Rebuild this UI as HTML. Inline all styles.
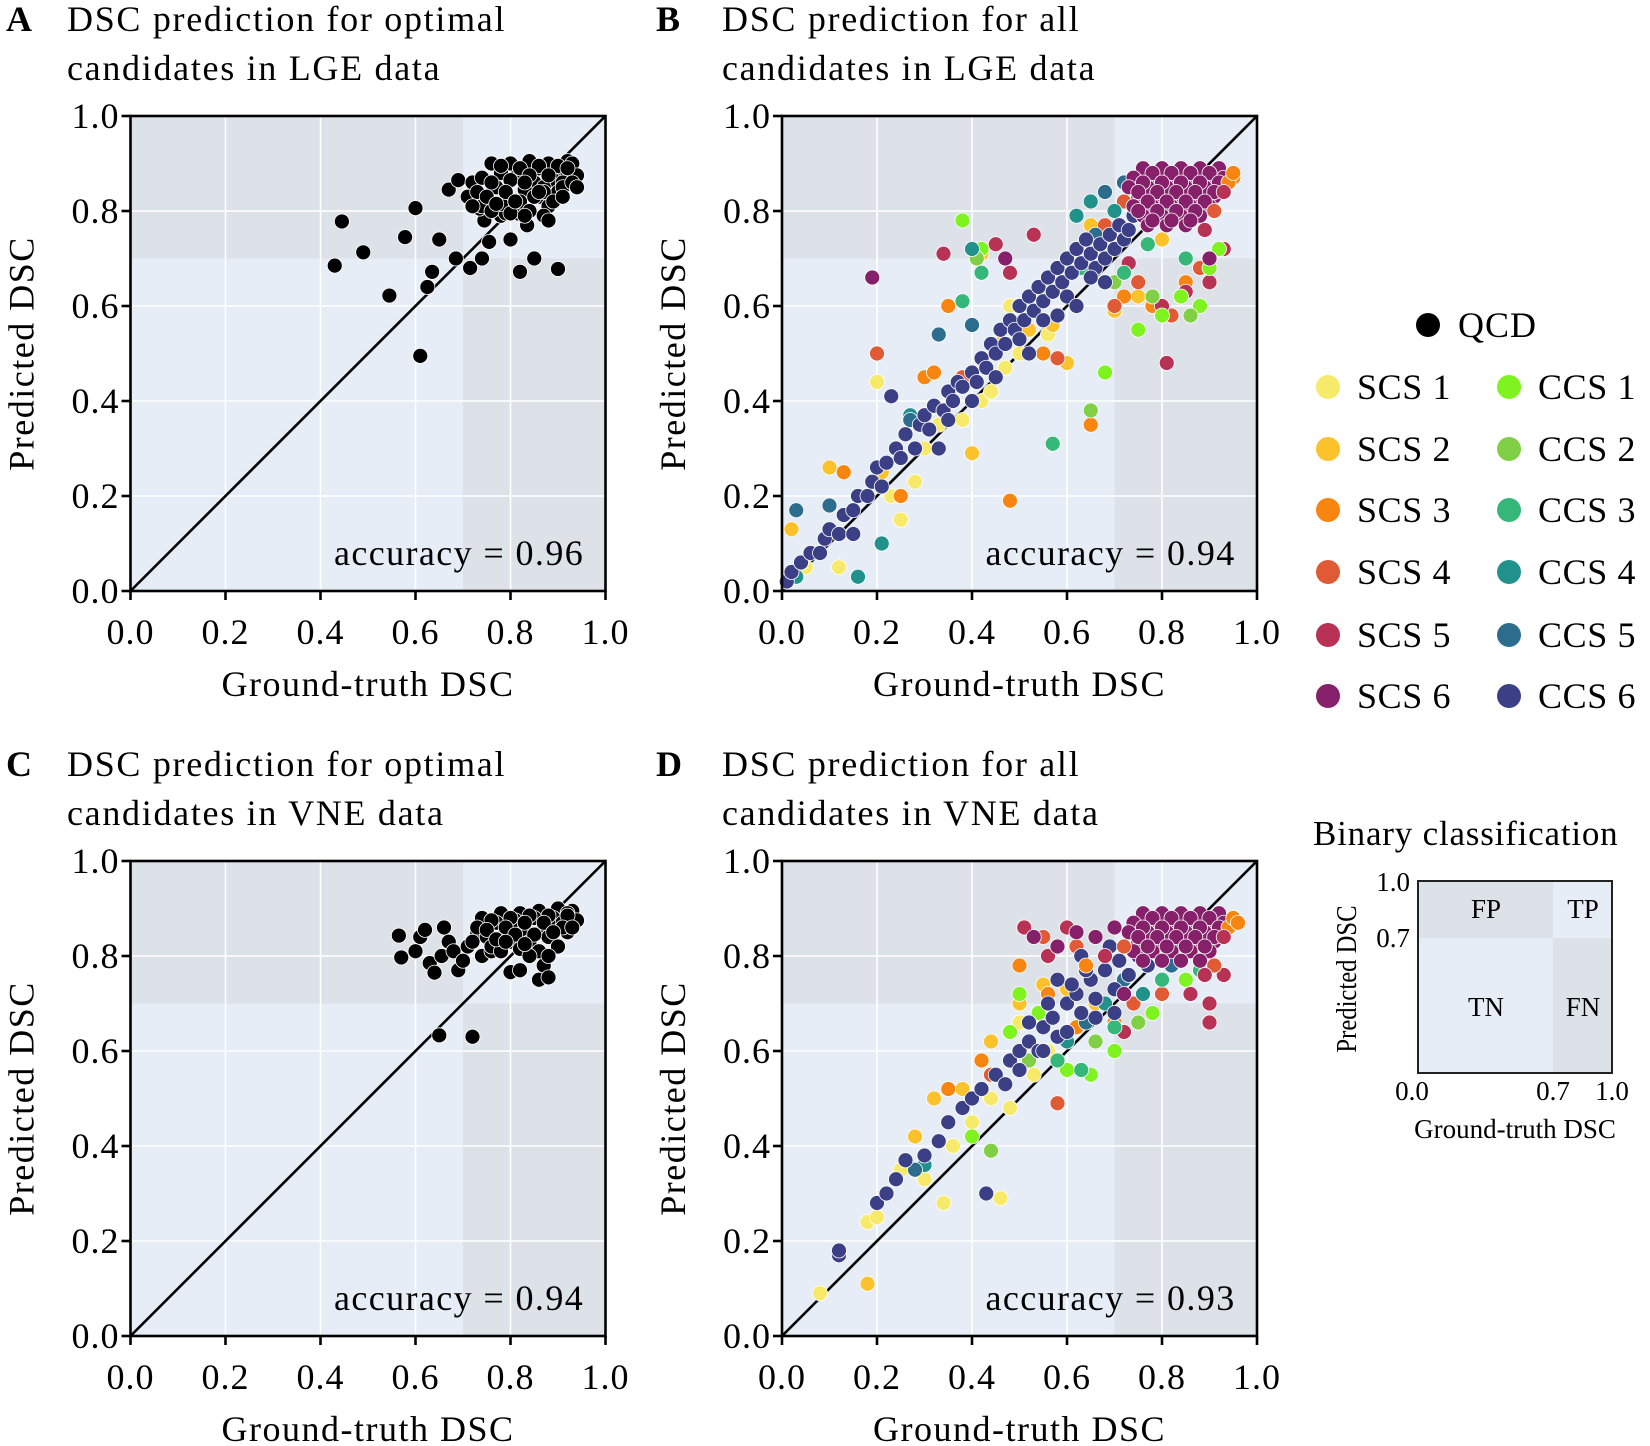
<!DOCTYPE html>
<html><head><meta charset="utf-8"><style>
html,body{margin:0;padding:0;background:#fff;font-family:"Liberation Serif","DejaVu Serif",serif;}
svg{display:block;}
svg text{font-family:"Liberation Serif","DejaVu Serif",serif;}
</style></head><body>
<svg id="fig" width="1650" height="1446" viewBox="0 0 1650 1446" xmlns="http://www.w3.org/2000/svg" font-family="Liberation Serif, serif">
<g font-size="36" fill="#000" letter-spacing="1.7">
<text x="6" y="31" font-weight="bold">A</text>
<text x="67" y="31">DSC prediction for optimal</text>
<text x="67" y="80">candidates in LGE data</text>
<text x="656" y="31" font-weight="bold">B</text>
<text x="722" y="31">DSC prediction for all</text>
<text x="722" y="80">candidates in LGE data</text>
<text x="6" y="776" font-weight="bold">C</text>
<text x="67" y="776">DSC prediction for optimal</text>
<text x="67" y="825">candidates in VNE data</text>
<text x="656" y="776" font-weight="bold">D</text>
<text x="722" y="776">DSC prediction for all</text>
<text x="722" y="825">candidates in VNE data</text>
</g>
<g id="panels"></g>
<g id="legend"></g>
<g fill="#000">
<text x="1313" y="845" font-size="35" letter-spacing="0.8">Binary classification</text>
<rect x="1418" y="881" width="135" height="57" fill="#dde1e8"/>
<rect x="1553" y="881" width="59" height="57" fill="#e6edf6"/>
<rect x="1418" y="938" width="135" height="135" fill="#e6edf6"/>
<rect x="1553" y="938" width="59" height="135" fill="#dde1e8"/>
<rect x="1418" y="881" width="194" height="192" fill="none" stroke="#222" stroke-width="2"/>
<g font-size="27" text-anchor="middle">
<text x="1486" y="918">FP</text>
<text x="1583" y="918">TP</text>
<text x="1486" y="1016">TN</text>
<text x="1583" y="1016">FN</text>
<text x="1412" y="1100">0.0</text>
<text x="1553" y="1100">0.7</text>
<text x="1612" y="1100">1.0</text>
<text x="1515" y="1138">Ground-truth DSC</text>
</g>
<g font-size="27" text-anchor="end">
<text x="1410" y="891">1.0</text>
<text x="1410" y="947">0.7</text>
</g>
<text transform="translate(1356,979) rotate(-90) scale(0.85,1)" font-size="29" text-anchor="middle">Predicted DSC</text>
</g>
</svg>
<script>
const NS="http://www.w3.org/2000/svg";
const ticks=[0,0.2,0.4,0.6,0.8,1.0];
const tickLabels=["0.0","0.2","0.4","0.6","0.8","1.0"];
const threshold=0.7;
const groupNames=["SCS 1","SCS 2","SCS 3","SCS 4","SCS 5","SCS 6","CCS 1","CCS 2","CCS 3","CCS 4","CCS 5","CCS 6"];
const groupColors=["#f7ea6a","#fbc22b","#f8850f","#e05a35","#b83255","#86206a","#7ff31f","#80cf45","#35b779","#21918c","#2c6d8e","#3b3f85"];
const accuracies=["0.96","0.94","0.94","0.93"];

// Panel A (LGE optimal, QCD)
const gtA=[0.43,0.445,0.49,0.545,0.578,0.60,0.61,0.625,0.635,0.65,0.67,0.685,0.69,0.715,0.72,0.74,0.745,0.755,0.80,0.82,0.835,0.85,0.90,0.71,0.735,0.78,0.79,0.815,
0.76,0.80,0.84,0.88,0.92,0.74,0.78,0.82,0.86,0.90,0.93,0.73,0.77,0.81,0.85,0.89,0.92,0.75,0.79,0.83,0.87,0.91,0.74,0.78,0.82,0.86,0.90,0.76,0.80,0.84,0.88,0.94,
0.78,0.82,0.86,0.90,0.76,0.80,0.84,0.88,0.92,0.75,0.79,0.83,0.87,0.91,0.77,0.81,0.85,0.89,0.93,0.83,0.87,0.94,0.72,0.88,0.91,0.86];
const predA=[0.685,0.778,0.713,0.622,0.745,0.806,0.495,0.64,0.672,0.74,0.845,0.70,0.865,0.68,0.86,0.70,0.78,0.735,0.74,0.672,0.77,0.70,0.678,0.83,0.805,0.79,0.795,0.795,
0.90,0.90,0.905,0.90,0.905,0.87,0.88,0.885,0.89,0.88,0.90,0.84,0.85,0.87,0.86,0.865,0.88,0.82,0.83,0.845,0.85,0.86,0.81,0.815,0.82,0.83,0.84,0.80,0.795,0.80,0.81,0.875,
0.895,0.89,0.895,0.895,0.86,0.865,0.875,0.875,0.89,0.83,0.84,0.86,0.84,0.85,0.815,0.82,0.83,0.82,0.86,0.79,0.79,0.85,0.81,0.78,0.83,0.84];

// Panel C (VNE optimal, QCD)
const gtC=[0.565,0.57,0.60,0.61,0.62,0.63,0.64,0.65,0.655,0.66,0.67,0.68,0.69,0.70,0.71,0.72,0.74,0.76,0.80,0.82,0.86,0.87,0.88,0.73,
0.74,0.78,0.82,0.86,0.90,0.93,0.73,0.77,0.81,0.85,0.89,0.92,0.75,0.79,0.83,0.87,0.91,0.94,0.76,0.80,0.84,0.88,0.92,0.78,0.82,0.86,0.90,
0.76,0.80,0.84,0.88,0.92,0.75,0.79,0.83,0.87,0.91,0.77,0.81,0.85,0.89,0.93,0.84,0.88,0.72,0.79,0.83];
const predC=[0.843,0.797,0.81,0.84,0.855,0.785,0.765,0.633,0.80,0.86,0.83,0.81,0.77,0.79,0.82,0.63,0.80,0.81,0.766,0.77,0.75,0.78,0.755,0.85,
0.88,0.89,0.89,0.895,0.90,0.895,0.86,0.87,0.875,0.88,0.88,0.89,0.84,0.85,0.855,0.86,0.87,0.875,0.82,0.83,0.83,0.84,0.85,0.81,0.815,0.81,0.82,
0.875,0.88,0.885,0.885,0.885,0.855,0.86,0.87,0.87,0.86,0.835,0.845,0.845,0.85,0.86,0.80,0.80,0.83,0.83,0.825];

// Panel B (LGE all candidates)
const gtB=[0.01,0.05,0.12,0.20,0.23,0.28,0.30,0.33,0.38,0.42,0.44,0.47,0.50,0.25,0.56,0.48,
0.02,0.10,0.21,0.40,0.46,0.52,0.57,0.60,0.70,0.75,0.42,0.80,0.65,
0.13,0.25,0.30,0.32,0.35,0.48,0.65,0.55,0.72,0.78,0.85,0.90,0.60,0.95,
0.20,0.38,0.50,0.58,0.70,0.75,0.82,0.88,0.72,0.68,
0.34,0.45,0.48,0.53,0.73,0.80,0.85,0.90,0.93,0.81,0.78,
0.38,0.42,0.55,0.68,0.80,0.84,0.88,0.90,0.92,0.75,
0.65,0.41,0.70,0.78,0.86,
0.38,0.42,0.50,0.63,0.72,0.77,0.57,0.85,
0.03,0.16,0.21,0.27,0.40,0.62,0.65,0.70,
0.03,0.10,0.27,0.33,0.40,0.66,0.68,0.72,
0.01,0.02,0.04,0.06,0.08,0.09,0.10,0.12,0.13,0.15,0.16,0.18,0.19,0.20,0.21,0.22,0.24,0.25,0.26,0.28,0.29,0.30,0.31,0.32,0.34,0.35,0.36,0.37,0.38,0.40,0.41,0.42,0.43,0.44,0.45,0.46,0.47,0.48,0.49,0.50,0.51,0.52,0.53,0.54,0.55,0.56,0.57,0.58,0.59,0.60,0.61,0.62,0.63,0.64,0.65,0.66,0.67,0.68,0.69,0.70,0.71,0.72,0.73,0.74,0.50,0.55,0.45,0.40,0.35,0.23,0.15,0.33,0.60,0.62,0.65,0.68,0.58,0.52,
0.19,0.47,0.90,
0.76,0.80,0.84,0.88,0.92,0.74,0.78,0.82,0.86,0.90,0.93,0.73,0.77,0.81,0.85,0.89,0.92,0.75,0.79,0.83,0.87,0.91,0.74,0.78,0.82,0.86,0.90,0.76,0.80,0.84,0.88,0.77,0.81,0.85,
0.78,0.82,0.86,0.90,0.76,0.80,0.84,0.88,0.92,0.75,0.79,0.83,0.87,0.91,0.77,0.81,0.85,0.89,0.75,0.79,0.83,0.87,0.78,0.82,0.86,
0.94,0.93,0.95,0.91,0.89];
const predB=[0.02,0.05,0.05,0.44,0.20,0.23,0.30,0.35,0.36,0.40,0.42,0.47,0.50,0.15,0.54,0.60,
0.13,0.26,0.25,0.29,0.52,0.55,0.56,0.48,0.59,0.62,0.71,0.74,0.77,
0.25,0.20,0.45,0.46,0.60,0.19,0.35,0.50,0.62,0.60,0.65,0.70,0.70,0.87,
0.50,0.45,0.60,0.49,0.60,0.65,0.58,0.68,0.82,0.77,
0.71,0.73,0.67,0.75,0.69,0.60,0.63,0.65,0.72,0.48,0.78,
0.78,0.72,0.63,0.46,0.58,0.62,0.60,0.68,0.72,0.55,
0.38,0.70,0.65,0.62,0.58,
0.61,0.67,0.60,0.68,0.67,0.73,0.31,0.70,
0.03,0.03,0.10,0.37,0.72,0.79,0.82,0.80,
0.17,0.18,0.36,0.54,0.56,0.75,0.84,0.86,
0.02,0.04,0.06,0.08,0.08,0.11,0.13,0.12,0.16,0.17,0.20,0.20,0.23,0.26,0.22,0.27,0.30,0.28,0.33,0.30,0.35,0.37,0.34,0.39,0.38,0.42,0.40,0.44,0.43,0.46,0.44,0.49,0.47,0.52,0.50,0.55,0.52,0.57,0.55,0.60,0.57,0.62,0.59,0.64,0.61,0.66,0.63,0.68,0.65,0.70,0.67,0.72,0.69,0.74,0.71,0.68,0.73,0.70,0.75,0.72,0.77,0.74,0.76,0.79,0.53,0.57,0.45,0.40,0.36,0.41,0.12,0.30,0.62,0.60,0.66,0.65,0.58,0.50,
0.66,0.70,0.70,
0.89,0.89,0.89,0.89,0.89,0.87,0.87,0.87,0.87,0.87,0.87,0.85,0.85,0.85,0.85,0.85,0.85,0.83,0.83,0.83,0.83,0.83,0.81,0.81,0.81,0.81,0.81,0.79,0.79,0.79,0.79,0.77,0.77,0.77,
0.88,0.88,0.88,0.88,0.86,0.86,0.86,0.86,0.86,0.84,0.84,0.84,0.84,0.84,0.82,0.82,0.82,0.82,0.80,0.80,0.80,0.80,0.78,0.78,0.78,
0.86,0.84,0.88,0.80,0.76];
const grpB=[0,0,0,0,0,0,0,0,0,0,0,0,0,0,0,0,
1,1,1,1,1,1,1,1,1,1,1,1,1,
2,2,2,2,2,2,2,2,2,2,2,2,2,2,
3,3,3,3,3,3,3,3,3,3,
4,4,4,4,4,4,4,4,4,4,4,
6,6,6,6,6,6,6,6,6,6,
7,7,7,7,7,
8,8,8,8,8,8,8,8,
9,9,9,9,9,9,9,9,
10,10,10,10,10,10,10,10,
11,11,11,11,11,11,11,11,11,11,11,11,11,11,11,11,11,11,11,11,11,11,11,11,11,11,11,11,11,11,11,11,11,11,11,11,11,11,11,11,11,11,11,11,11,11,11,11,11,11,11,11,11,11,11,11,11,11,11,11,11,11,11,11,11,11,11,11,11,11,11,11,11,11,11,11,11,11,
5,5,5,
5,5,5,5,5,5,5,5,5,5,5,5,5,5,5,5,5,5,5,5,5,5,5,5,5,5,5,5,5,5,5,5,5,5,
5,5,5,5,5,5,5,5,5,5,5,5,5,5,5,5,5,5,5,5,5,5,5,5,5,
2,4,2,3,4];

// Panel D (VNE all candidates)
const gtD=[0.08,0.18,0.20,0.25,0.30,0.34,0.36,0.40,0.44,0.46,0.50,0.48,0.53,0.56,
0.18,0.28,0.32,0.38,0.44,0.50,0.55,0.60,0.66,
0.35,0.42,0.50,0.56,0.62,0.70,0.95,
0.44,0.55,0.58,0.62,0.74,0.80,
0.51,0.56,0.60,0.72,0.86,0.90,0.90,0.93,
0.40,0.48,0.50,0.54,0.60,0.65,0.70,0.78,0.85,
0.44,0.52,0.66,0.75,
0.58,0.63,0.70,0.80,0.88,
0.30,0.60,0.68,0.76,
0.28,0.64,0.72,0.82,
0.12,0.12,0.20,0.22,0.24,0.26,0.30,0.33,0.35,0.38,0.40,0.42,0.43,0.45,0.48,0.50,0.52,0.54,0.55,0.57,0.58,0.60,0.62,0.63,0.65,0.66,0.68,0.70,0.71,0.73,0.75,0.77,0.60,0.55,0.50,0.47,0.66,0.63,0.58,0.70,0.69,0.52,0.56,0.61,0.64,
0.53,0.58,0.72,
0.76,0.80,0.84,0.88,0.92,0.74,0.78,0.82,0.86,0.90,0.93,0.73,0.77,0.81,0.85,0.89,0.92,0.75,0.79,0.83,0.87,0.91,0.74,0.78,0.82,0.86,0.90,0.76,0.80,0.84,0.88,0.66,0.70,0.62,
0.78,0.82,0.86,0.90,0.76,0.80,0.84,0.88,0.92,0.75,0.79,0.83,0.87,0.91,0.77,0.81,0.85,0.89,0.68,0.72,0.64,
0.94,0.93,0.95,0.91,0.89,0.96];
const predD=[0.09,0.24,0.25,0.35,0.33,0.28,0.40,0.45,0.50,0.29,0.66,0.48,0.55,0.60,
0.11,0.42,0.50,0.52,0.62,0.70,0.74,0.73,0.70,
0.52,0.58,0.78,0.72,0.65,0.66,0.87,
0.55,0.84,0.49,0.82,0.70,0.72,
0.86,0.80,0.86,0.64,0.72,0.66,0.70,0.76,
0.42,0.64,0.72,0.68,0.56,0.55,0.60,0.68,0.75,
0.39,0.58,0.62,0.66,
0.58,0.56,0.65,0.75,0.77,
0.36,0.62,0.70,0.72,
0.35,0.66,0.75,0.78,
0.17,0.18,0.28,0.30,0.33,0.37,0.38,0.41,0.45,0.48,0.50,0.52,0.30,0.55,0.58,0.60,0.62,0.60,0.65,0.67,0.63,0.70,0.72,0.68,0.75,0.71,0.77,0.73,0.79,0.76,0.80,0.78,0.64,0.60,0.56,0.53,0.67,0.80,0.75,0.68,0.82,0.66,0.70,0.74,0.77,
0.84,0.82,0.72,
0.89,0.89,0.89,0.89,0.89,0.87,0.87,0.87,0.87,0.87,0.87,0.85,0.85,0.85,0.85,0.85,0.85,0.83,0.83,0.83,0.83,0.83,0.81,0.81,0.81,0.81,0.81,0.79,0.79,0.79,0.79,0.84,0.86,0.85,
0.88,0.88,0.88,0.88,0.86,0.86,0.86,0.86,0.86,0.84,0.84,0.84,0.84,0.84,0.82,0.82,0.82,0.82,0.80,0.82,0.78,
0.86,0.84,0.88,0.78,0.76,0.87];
const grpD=[0,0,0,0,0,0,0,0,0,0,0,0,0,0,
1,1,1,1,1,1,1,1,1,
2,2,2,2,2,2,2,
3,3,3,3,3,3,
4,4,4,4,4,4,4,4,
6,6,6,6,6,6,6,6,6,
7,7,7,7,
8,8,8,8,8,
9,9,9,9,
10,10,10,10,
11,11,11,11,11,11,11,11,11,11,11,11,11,11,11,11,11,11,11,11,11,11,11,11,11,11,11,11,11,11,11,11,11,11,11,11,11,11,11,11,11,11,11,11,11,
5,5,5,
5,5,5,5,5,5,5,5,5,5,5,5,5,5,5,5,5,5,5,5,5,5,5,5,5,5,5,5,5,5,5,5,5,5,
5,5,5,5,5,5,5,5,5,5,5,5,5,5,5,5,5,5,4,3,2,
2,4,2,3,4,2];

const panelsG=document.getElementById('panels');
function mk(tag,attrs,parent){const e=document.createElementNS(NS,tag);for(const k in attrs)e.setAttribute(k,attrs[k]);if(parent)parent.appendChild(e);return e;}

function drawPanel(key,left,top,size,gt,pred,grp,acc){
  const sx=v=>left+v*size, sy=v=>top+size-v*size;
  const g=mk('g',{},panelsG);
  
  
  const regions=[[0,threshold,threshold,1,'#dde1e8','fp'],[threshold,1,threshold,1,'#e6edf6','tp'],[0,threshold,0,threshold,'#e6edf6','tn'],[threshold,1,0,threshold,'#dde1e8','fn']];
  regions.forEach(r=>{
    const re=mk('rect',{x:sx(r[0]),y:sy(r[3]),width:sx(r[1])-sx(r[0]),height:sy(r[2])-sy(r[3]),fill:r[4]},g);
    
    
  });
  ticks.forEach((t,i)=>{
    if(t>0&&t<1){
      const gv=mk('line',{x1:sx(t),x2:sx(t),y1:sy(0),y2:sy(1),stroke:'#fff','stroke-width':1.6},g);
      
      
      const gh=mk('line',{x1:sx(0),x2:sx(1),y1:sy(t),y2:sy(t),stroke:'#fff','stroke-width':1.6},g);
      
      
    }
  });
  const diag=mk('line',{x1:sx(0),y1:sy(0),x2:sx(1),y2:sy(1),stroke:'#000','stroke-width':2.6},g);
  
  
  for(let i=0;i<gt.length;i++){
    const col=grp?groupColors[grp[i]]:'#000';
    const c=mk('circle',{cx:sx(gt[i]),cy:sy(pred[i]),r:7.5,fill:col,stroke:'#fff','stroke-width':0.8},g);
    
    
  }
  const fr=mk('rect',{x:sx(0),y:sy(1),width:size,height:size,fill:'none',stroke:'#000','stroke-width':2.6},g);
  
  
  ticks.forEach((t,i)=>{
    const tx=mk('line',{x1:sx(t),x2:sx(t),y1:sy(0),y2:sy(0)+9,stroke:'#000','stroke-width':2.6},g);
    
    
    const ty=mk('line',{x1:sx(0)-9,x2:sx(0),y1:sy(t),y2:sy(t),stroke:'#000','stroke-width':2.6},g);
    
    
    const lx=mk('text',{x:sx(t),y:sy(0)+53,'text-anchor':'middle','font-size':36,'letter-spacing':1},g);
    lx.textContent=tickLabels[i];
    
    
    const ly=mk('text',{x:sx(0)-11,y:sy(t)+12,'text-anchor':'end','font-size':36,'letter-spacing':1},g);
    ly.textContent=tickLabels[i];
    
    
  });
  const xt=mk('text',{x:sx(0.5),y:sy(0)+105,'text-anchor':'middle','font-size':36,'letter-spacing':1.5},g);
  xt.textContent='Ground-truth DSC';
  
  
  const yt=mk('text',{transform:'translate('+(left-97)+','+sy(0.5)+') rotate(-90)','text-anchor':'middle','font-size':36,'letter-spacing':1.5},g);
  yt.textContent='Predicted DSC';
  
  
  const at=mk('text',{x:sx(0.955),y:sy(0.055),'text-anchor':'end','font-size':36,'letter-spacing':1.4},g);
  at.textContent='accuracy = '+acc;
  
  
}
drawPanel('a',130.5,116,475,gtA,predA,null,accuracies[0]);
drawPanel('b',782,116,475,gtB,predB,grpB,accuracies[1]);
drawPanel('c',130.5,861,475,gtC,predC,null,accuracies[2]);
drawPanel('d',782,861,475,gtD,predD,grpD,accuracies[3]);

const lg=document.getElementById('legend');
const q=mk('circle',{cx:1428,cy:325,r:12,fill:'#000'},lg);


const qt=mk('text',{x:1458,y:337,'font-size':36,'letter-spacing':1},lg);
qt.textContent='QCD';


const rowY=[387,449,510,572,635,696];
groupNames.forEach((n,i)=>{
  const col=i<6?0:1, row=i%6;
  const dx=col?1509:1328;
  const d=mk('circle',{cx:dx,cy:rowY[row],r:12,fill:groupColors[i]},lg);
  
  
  const t=mk('text',{x:dx+29,y:rowY[row]+12,'font-size':36,'letter-spacing':0.6},lg);
  t.textContent=n;
  
  
});
</script>
</body></html>
